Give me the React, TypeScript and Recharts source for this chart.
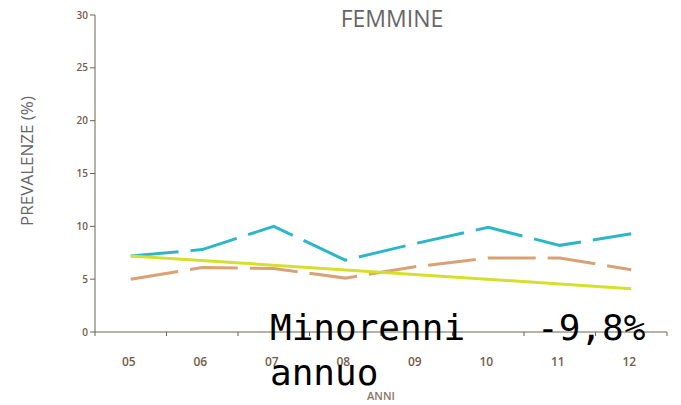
import { Line, LineChart, XAxis, YAxis } from "recharts";

const years = ["05", "06", "07", "08", "09", "10", "11", "12"];
const cyanValues = [7.2, 7.8, 10.0, 6.8, 8.4, 9.9, 8.2, 9.3];
const orangeValues = [5.0, 6.1, 6.0, 5.1, 6.2, 7.0, 7.0, 5.9];
const trendValues = [7.2, null, null, null, null, null, null, 4.1];
const yTicks = [0, 5, 10, 15, 20, 25, 30];

const data = years.map((year, i) => ({
  x: i + 0.5,
  year,
  cyan: cyanValues[i],
  orange: orangeValues[i],
  trend: trendValues[i],
}));

const xTicks = [0, 0.5, 1, 1.5, 2, 2.5, 3, 3.5, 4, 4.5, 5, 5.5, 6, 6.5, 7, 7.5, 8];

function XTick(props: any) {
  const { x, y, payload } = props;
  const v = payload.value as number;
  if (Number.isInteger(v)) {
    return <line x1={x} x2={x} y1={y - 8} y2={y - 4} stroke="#6b6452" strokeWidth={1} />;
  }
  return (
    <text x={x - 2} y={y + 26} textAnchor="middle" fontSize={12} fill="#735c48" fontFamily="Open Sans" fontWeight={600}>
      {years[Math.floor(v)]}
    </text>
  );
}

const overlay = {
  position: "absolute" as const,
  top: 305,
  fontFamily: "DejaVu Sans Mono",
  fontSize: 36,
  lineHeight: "45px",
  whiteSpace: "pre" as const,
  color: "#000",
};

export default function App() {
  return (
    <div style={{ position: "absolute", left: 0, top: 0, width: 681, height: 405, background: "#fff" }}>
      <LineChart width={681} height={405} data={data} margin={{ top: 15, right: 14, left: 35, bottom: 43 }}>
        <XAxis
          dataKey="x"
          type="number"
          domain={[0, 8]}
          ticks={xTicks}
          interval={0}
          tickLine={false}
          tick={<XTick />}
          stroke="#6b6452"
          height={30}
        />
        <YAxis
          type="number"
          domain={[0, 30]}
          ticks={yTicks}
          interval={0}
          width={60}
          stroke="#6b6452"
          tickSize={5}
          tick={{ fontSize: 10, fill: "#735c48", fontFamily: "Open Sans", fontWeight: 600 }}
        />
        <Line dataKey="cyan" stroke="#2cb6c8" strokeWidth={3} strokeDasharray="48 12" dot={false} isAnimationActive={false} />
        <Line dataKey="orange" stroke="#d9a274" strokeWidth={3} strokeDasharray="48 12" dot={false} isAnimationActive={false} />
        <Line dataKey="trend" stroke="#d5df2c" strokeWidth={3} connectNulls dot={false} isAnimationActive={false} />
        <text x={392} y={27} textAnchor="middle" fontSize={23} fill="#666666" fontFamily="Open Sans">
          FEMMINE
        </text>
        <text
          x={33}
          y={161}
          textAnchor="middle"
          fontSize={17}
          fill="#666666"
          fontFamily="Open Sans"
          transform="rotate(-90 33 161)"
        >
          PREVALENZE (%)
        </text>
        <text x={381} y={400} textAnchor="middle" fontSize={11} fill="#8a7463" fontFamily="Open Sans" fontWeight={600}>
          ANNI
        </text>
      </LineChart>
      <div style={{ ...overlay, left: 270 }}>{"Minorenni\nannuo"}</div>
      <div style={{ ...overlay, left: 537 }}>{"-9,8%"}</div>
    </div>
  );
}
